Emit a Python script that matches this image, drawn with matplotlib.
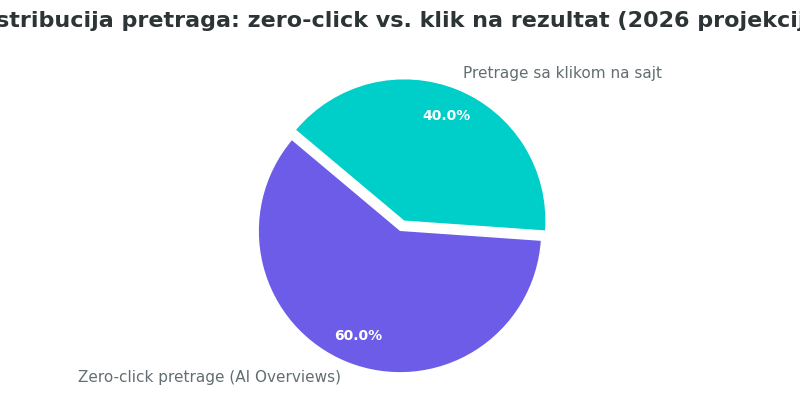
import matplotlib
matplotlib.use("Agg")
import matplotlib.pyplot as plt

labels = ["Zero-click pretrage (AI Overviews)", "Pretrage sa klikom na sajt"]
values = [60, 40]
colors = ["#6C5CE7", "#00CEC9"]

fig = plt.figure(figsize=(8, 4.2), dpi=100)
ax = fig.add_axes([0.2, 0.03, 0.6, 0.84])
wedges, texts, autotexts = ax.pie(values, labels=labels, colors=colors, startangle=140,
       explode=[0, 0.08], autopct="%1.1f%%", pctdistance=0.8, labeldistance=1.12,
       textprops=dict(color="#636e72", fontsize=11))
for t in autotexts:
    t.set_color("white"); t.set_fontweight("bold"); t.set_fontsize(10)
ax.set_aspect("equal")
fig.text(0.5, 0.95, "Distribucija pretraga: zero-click vs. klik na rezultat (2026 projekcija)",
         ha="center", va="center", fontsize=16, fontweight="bold", color="#2d3436")
fig.savefig("out.png")
